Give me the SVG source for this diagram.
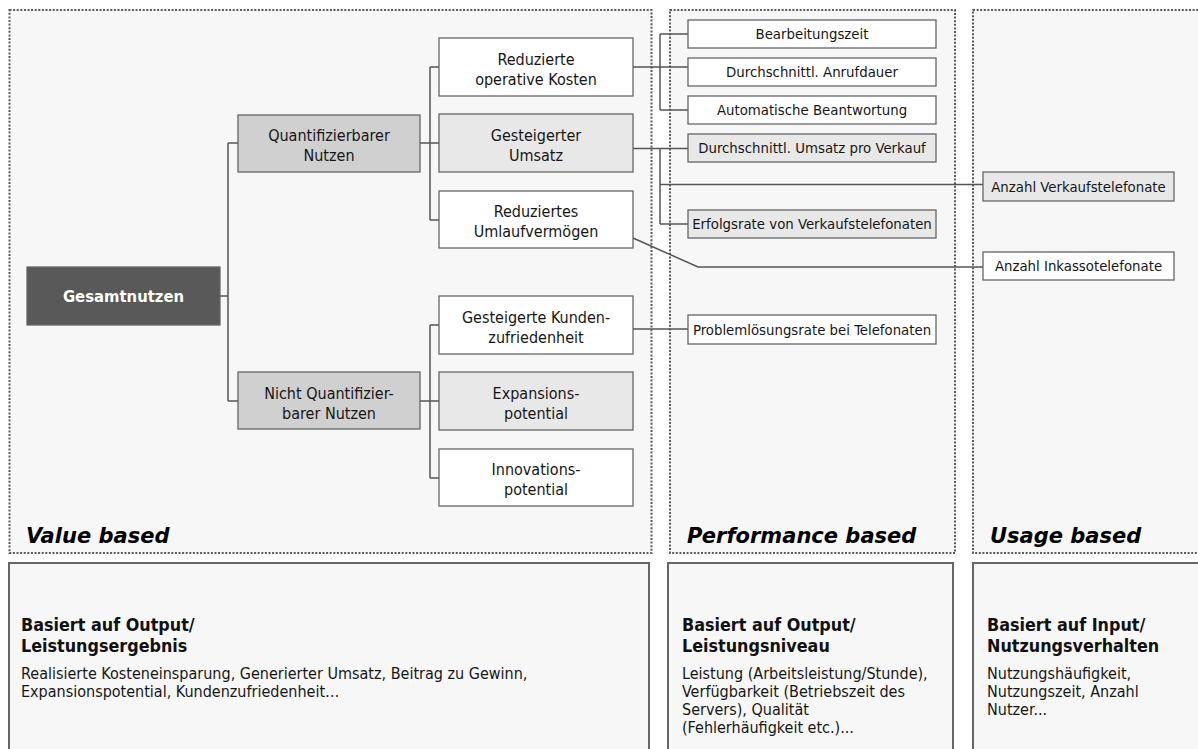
<svg xmlns="http://www.w3.org/2000/svg" width="1198" height="749" viewBox="0 0 1198 749">
<style>
.panel{fill:#f7f7f7;stroke:#5a5a5a;stroke-width:2;stroke-dasharray:2 1.6}
.bbox{fill:#f7f7f7;stroke:#666;stroke-width:2}
.box{stroke:#666;stroke-width:1.3}
.w{fill:#fff}.g1{fill:#e8e8e8}.g2{fill:#d0d0d0}.dk{fill:#595959}
.t{font-family:'DejaVu Sans Condensed','DejaVu Sans',sans-serif;font-stretch:condensed;fill:#161616}
.l2{font-size:16px;text-anchor:middle}
.l3{font-size:14.8px;text-anchor:middle}
.hd{font-size:17.8px;font-weight:bold;fill:#111}
.bd{font-size:16px}
.sec{font-family:'DejaVu Sans',sans-serif;font-size:21px;font-weight:bold;font-style:italic;fill:#000}
.c{stroke:#555;stroke-width:1.5;fill:none}
</style>
<rect width="1198" height="749" fill="#fff"/>
<g id="panels">
<rect class="panel" x="9.5" y="10" width="642" height="543"/>
<rect class="panel" x="670" y="10" width="285" height="543"/>
<rect class="panel" x="973" y="10" width="240" height="543"/>
<text class="sec" x="26" y="543">Value based</text>
<text class="sec" x="687" y="543">Performance based</text>
<text class="sec" x="990" y="543">Usage based</text>
</g>
<g id="connectors">
<path class="c" d="M220 296H228M228 143V401M228 143H238M228 401H238"/>
<path class="c" d="M420 143H430M430 67V220M430 67H439M430 143H439M430 220H439"/>
<path class="c" d="M420 401H430M430 325V478M430 325H439M430 401H439M430 478H439"/>
<path class="c" d="M633 67H688M660 34V110M660 34H688M660 110H688"/>
<path class="c" d="M633 148.5H688M660 148.5V224M660 184.5H983M660 224H688"/>
<path class="c" d="M633 238L698 267H983"/>
<path class="c" d="M633 329H688"/>
</g>
<g id="n-gesamt">
<rect class="box dk" x="27" y="267" width="193" height="58"/>
<text class="t" x="123.5" y="302" style="font-size:16.5px;font-weight:bold;text-anchor:middle;fill:#fff">Gesamtnutzen</text>
</g>
<g id="n-quant">
<rect class="box g2" x="238" y="115" width="182" height="57"/>
<text class="t l2" x="329" y="140.5">Quantifizierbarer</text>
<text class="t l2" x="329" y="160.5">Nutzen</text>
</g>
<g id="n-nichtquant">
<rect class="box g2" x="238" y="372" width="182" height="57"/>
<text class="t l2" x="329" y="398.5">Nicht Quantifizier-</text>
<text class="t l2" x="329" y="418.5">barer Nutzen</text>
</g>
<g id="n-kosten">
<rect class="box w" x="439" y="38" width="194" height="58"/>
<text class="t l2" x="536" y="64.5">Reduzierte</text>
<text class="t l2" x="536" y="84.5">operative Kosten</text>
</g>
<g id="n-umsatz">
<rect class="box g1" x="439" y="114" width="194" height="58"/>
<text class="t l2" x="536" y="140.5">Gesteigerter</text>
<text class="t l2" x="536" y="160.5">Umsatz</text>
</g>
<g id="n-umlauf">
<rect class="box w" x="439" y="191" width="194" height="57"/>
<text class="t l2" x="536" y="216.5">Reduziertes</text>
<text class="t l2" x="536" y="236.5">Umlaufvermögen</text>
</g>
<g id="n-kunden">
<rect class="box w" x="439" y="296" width="194" height="58"/>
<text class="t l2" x="536" y="323">Gesteigerte Kunden-</text>
<text class="t l2" x="536" y="343">zufriedenheit</text>
</g>
<g id="n-expansion">
<rect class="box g1" x="439" y="372" width="194" height="58"/>
<text class="t l2" x="536" y="398.5">Expansions-</text>
<text class="t l2" x="536" y="418.5">potential</text>
</g>
<g id="n-innovation">
<rect class="box w" x="439" y="449" width="194" height="57"/>
<text class="t l2" x="536" y="475">Innovations-</text>
<text class="t l2" x="536" y="495">potential</text>
</g>
<g id="n-bearbeitung">
<rect class="box w" x="688" y="20" width="248" height="28"/>
<text class="t l3" x="812" y="39">Bearbeitungszeit</text>
</g>
<g id="n-anrufdauer">
<rect class="box w" x="688" y="58" width="248" height="28"/>
<text class="t l3" x="812" y="77">Durchschnittl. Anrufdauer</text>
</g>
<g id="n-automatisch">
<rect class="box w" x="688" y="96" width="248" height="28"/>
<text class="t l3" x="812" y="115">Automatische Beantwortung</text>
</g>
<g id="n-umsatzverkauf">
<rect class="box g1" x="688" y="134" width="248" height="28"/>
<text class="t l3" x="812" y="153">Durchschnittl. Umsatz pro Verkauf</text>
</g>
<g id="n-erfolgsrate">
<rect class="box g1" x="688" y="210" width="248" height="28"/>
<text class="t l3" x="812" y="229">Erfolgsrate von Verkaufstelefonaten</text>
</g>
<g id="n-problem">
<rect class="box w" x="688" y="315" width="248" height="29"/>
<text class="t l3" x="812" y="334.5">Problemlösungsrate bei Telefonaten</text>
</g>
<g id="n-verkaufstel">
<rect class="box g1" x="983" y="172" width="191" height="29"/>
<text class="t l3" x="1078.5" y="191.5">Anzahl Verkaufstelefonate</text>
</g>
<g id="n-inkasso">
<rect class="box w" x="983" y="252" width="191" height="28"/>
<text class="t l3" x="1078.5" y="271">Anzahl Inkassotelefonate</text>
</g>
<g id="b-value">
<rect class="bbox" x="9" y="563" width="640" height="200"/>
<text class="t hd" x="21" y="631">Basiert auf Output/</text>
<text class="t hd" x="21" y="652">Leistungsergebnis</text>
<text class="t bd" x="21" y="679">Realisierte Kosteneinsparung, Generierter Umsatz, Beitrag zu Gewinn,</text>
<text class="t bd" x="21" y="697">Expansionspotential, Kundenzufriedenheit…</text>
</g>
<g id="b-performance">
<rect class="bbox" x="668" y="563" width="285" height="200"/>
<text class="t hd" x="682" y="631">Basiert auf Output/</text>
<text class="t hd" x="682" y="652">Leistungsniveau</text>
<text class="t bd" x="682" y="679">Leistung (Arbeitsleistung/Stunde),</text>
<text class="t bd" x="682" y="697">Verfügbarkeit (Betriebszeit des</text>
<text class="t bd" x="682" y="715">Servers), Qualität</text>
<text class="t bd" x="682" y="733">(Fehlerhäufigkeit etc.)...</text>
</g>
<g id="b-usage">
<rect class="bbox" x="973" y="563" width="240" height="200"/>
<text class="t hd" x="987" y="631">Basiert auf Input/</text>
<text class="t hd" x="987" y="652">Nutzungsverhalten</text>
<text class="t bd" x="987" y="679">Nutzungshäufigkeit,</text>
<text class="t bd" x="987" y="697">Nutzungszeit, Anzahl</text>
<text class="t bd" x="987" y="715">Nutzer...</text>
</g>
</svg>
